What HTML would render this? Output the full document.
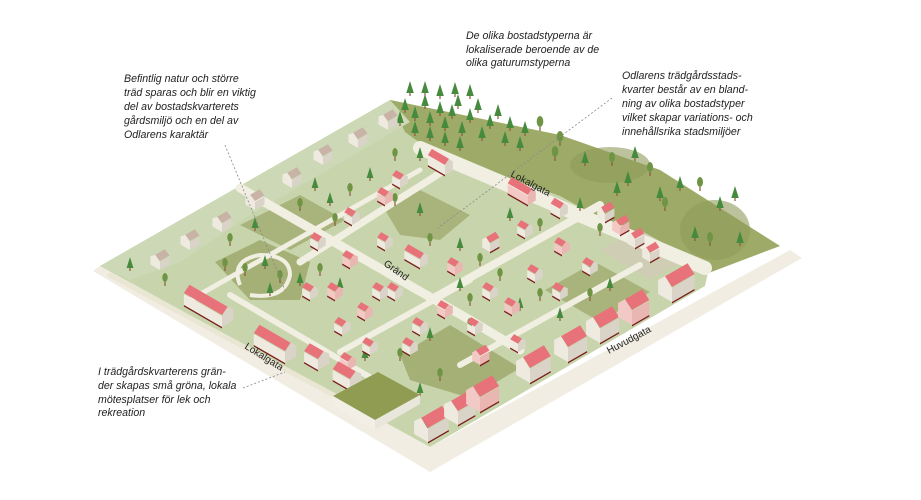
<!DOCTYPE html>
<html><head><meta charset="utf-8">
<style>
html,body{margin:0;padding:0;background:#fff;width:921px;height:500px;overflow:hidden}
svg{display:block}
.t{font-family:"Liberation Sans",sans-serif;font-style:italic;font-size:10.6px;fill:#222}
.lbl{font-family:"Liberation Sans",sans-serif;font-size:10px;fill:#222}
</style></head>
<body>
<svg id="s" width="921" height="500" viewBox="0 0 921 500" xmlns="http://www.w3.org/2000/svg">
<polygon points="93,271 430,472 802,258 790,250 430,447 100,266" fill="#f1ede2"/>
<polygon points="100,266 430,447 705,286 708,272 780,246 660,170 560,135 390,100" fill="#c8d5ac"/>
<polygon points="390,100 560,135 660,170 780,246 706,274 600,218 560,196 430,150 405,132" fill="#9eab68"/>
<polygon points="100,266 390,100 410,122 250,215 180,262 130,280" fill="#cdd8b6"/>
<polygon points="215,262 260,240 310,262 300,300 250,300" fill="#a4b075"/>
<polygon points="240,225 300,195 345,220 290,250" fill="#a9b47c"/>
<polygon points="385,210 420,190 470,215 440,240 400,235" fill="#a9b47c"/>
<polygon points="400,355 450,325 520,368 470,398 410,380" fill="#a4b075"/>
<polygon points="545,290 595,262 650,292 600,322" fill="#a9b47c"/>
<polygon points="600,250 640,230 690,258 650,280" fill="#cfcdb4"/>
<g stroke="#f1eee2" stroke-linecap="round" fill="none">
<path d="M420,148 L705,268" stroke-width="14"/>
<path d="M240,188 L470,320 L520,350" stroke-width="9"/>
<path d="M300,262 L445,170" stroke-width="7"/>
<path d="M430,300 L600,205" stroke-width="8"/>
<path d="M340,352 L470,280" stroke-width="6"/>
<path d="M460,365 L640,265" stroke-width="6"/>
<path d="M190,300 L420,170" stroke-width="5"/>
<path d="M230,295 L400,395" stroke-width="6"/>
<path d="M110,275 L380,420" stroke-width="5" stroke="#e9e6d3"/>
</g>
<path d="M240,285 Q230,260 260,255 Q290,255 290,275 Q285,300 250,295" stroke="#f1eee2" stroke-width="4" fill="none"/>
<g id="trees"></g>
<g id="houses"></g>
<text class="lbl" transform="translate(510,176) rotate(28)">Lokalgata</text>
<text class="lbl" transform="translate(383,265) rotate(35)">Gränd</text>
<text class="lbl" transform="translate(244,348) rotate(32)">Lokalgata</text>
<text class="lbl" transform="translate(609,354) rotate(-28)">Huvudgata</text>
<g stroke="#888" stroke-width="0.8" stroke-dasharray="2,2" fill="none">
<path d="M225,145 L285,290"/>
<path d="M612,98 L438,228"/>
<path d="M243,388 L285,372"/>
</g>
<text class="t" x="124" y="82">Befintlig natur och större</text>
<text class="t" x="124" y="96">träd sparas och blir en viktig</text>
<text class="t" x="124" y="110">del av bostadskvarterets</text>
<text class="t" x="124" y="124">gårdsmiljö och en del av</text>
<text class="t" x="124" y="138">Odlarens karaktär</text>
<text class="t" x="466" y="39">De olika bostadstyperna är</text>
<text class="t" x="466" y="53">lokaliserade beroende av de</text>
<text class="t" x="466" y="66">olika gaturumstyperna</text>
<text class="t" x="622" y="79">Odlarens trädgårdsstads-</text>
<text class="t" x="622" y="93">kvarter består av en bland-</text>
<text class="t" x="622" y="107">ning av olika bostadstyper</text>
<text class="t" x="622" y="121">vilket skapar variations- och</text>
<text class="t" x="622" y="135">innehållsrika stadsmiljöer</text>
<text class="t" x="98" y="375">I trädgårdskvarterens grän-</text>
<text class="t" x="98" y="389">der skapas små gröna, lokala</text>
<text class="t" x="98" y="403">mötesplatser för lek och</text>
<text class="t" x="98" y="416">rekreation</text>
</svg>
<script>
var NS="http://www.w3.org/2000/svg";
function poly(g,pts,fill){var p=document.createElementNS(NS,"polygon");p.setAttribute("points",pts.map(function(a){return a[0].toFixed(1)+","+a[1].toFixed(1)}).join(" "));p.setAttribute("fill",fill);g.appendChild(p);}
var ux=0.866,uy=0.5,vx=0.866,vy=-0.5;
function house(x,y,w,d,h,t,gray,pinkwall){
 var g=document.getElementById("houses");
 var r=h*0.55;
 var B=[x,y],L=[x-ux*w,y-uy*w],R=[x+vx*d,y+vy*d];
 function up(p,k){return [p[0],p[1]-k]}
 var roof=gray?"#c8b3a6":"#e8727a", wall=pinkwall?"#f3c9c5":"#eeeae0", wall2=pinkwall?"#e9b6b2":"#d9d3c8";
 if(t==1){
  var RL=up([L[0]+vx*d/2,L[1]+vy*d/2],h+r),RB=up([B[0]+vx*d/2,B[1]+vy*d/2],h+r);
  poly(g,[L,B,up(B,h),up(L,h)],wall);
  poly(g,[B,R,up(R,h),RB,up(B,h)],wall2);
  poly(g,[up(L,h+1),up(B,h+1),RB,RL],roof);
  if(!gray) poly(g,[[L[0],L[1]],[B[0],B[1]],[B[0],B[1]+1.5],[L[0],L[1]+1.5]],"#7a1c1c");
 } else {
  var F=up([(L[0]+B[0])/2,(L[1]+B[1])/2],h+r),Bk=[F[0]+vx*d,F[1]+vy*d];
  poly(g,[L,B,up(B,h),F,up(L,h)],wall);
  poly(g,[B,R,up(R,h),up(B,h)],wall2);
  poly(g,[up(B,h+1),up(R,h+1),Bk,F],roof);
  if(!gray) poly(g,[[B[0],B[1]],[R[0],R[1]],[R[0],R[1]+1.5],[B[0],B[1]+1.5]],"#7a1c1c");
 }
}
function tree(x,y,s,c){
 var g=document.getElementById("trees");
 var tr=document.createElementNS(NS,"rect");tr.setAttribute("x",x-0.6);tr.setAttribute("y",y-3);tr.setAttribute("width",1.2);tr.setAttribute("height",4);tr.setAttribute("fill","#8a5a3a");g.appendChild(tr);
 if(c){var e=document.createElementNS(NS,"ellipse");e.setAttribute("cx",x);e.setAttribute("cy",y-3-s);e.setAttribute("rx",s*0.6);e.setAttribute("ry",s);e.setAttribute("fill","#6e9444");g.appendChild(e);}
 else poly(g,[[x,y-3-s*2.2],[x-s*0.75,y-2],[x+s*0.75,y-2]],"#468a3e");
}
var tg=document.getElementById("trees");
[[610,165,40,18],[715,230,35,30]].forEach(function(e){var el=document.createElementNS(NS,"ellipse");el.setAttribute("cx",e[0]);el.setAttribute("cy",e[1]);el.setAttribute("rx",e[2]);el.setAttribute("ry",e[3]);el.setAttribute("fill","#8f9b5a");el.setAttribute("opacity","0.6");tg.appendChild(el)});
var ft=[[405,112],[415,120],[425,108],[430,125],[440,115],[445,130],[452,118],[458,108],[462,135],[470,122],[478,112],[482,140],[490,128],[498,118],[505,145],[510,130],[520,150],[525,135],[415,135],[430,140],[445,145],[460,150],[400,125],[470,98],[455,96],[440,98],[425,95],[410,95]];
ft.forEach(function(p){tree(p[0],p[1],5,false)});
[[540,130],[560,145],[555,160]].forEach(function(p){tree(p[0],p[1],5.5,true)});
var hill=[[612,165],[635,160],[628,185],[650,175],[660,200],[680,190],[700,190],[720,210],[735,200],[710,245],[740,245],[695,240],[665,210],[617,195],[585,165]];
hill.forEach(function(p,i){tree(p[0],p[1],5,i%3==0)});
var tl=[[245,275],[265,268],[280,282],[270,295],[225,270],[300,285],[230,245],[255,230],[320,275],[340,290],[300,210],[330,205],[335,225],[315,190],[350,195],[370,180],[395,160],[420,160],[395,205],[420,215],[430,245],[460,250],[480,265],[460,290],[500,280],[520,310],[540,300],[560,320],[590,300],[610,290],[470,330],[430,340],[400,360],[365,360],[440,380],[420,395],[470,305],[510,220],[540,230],[580,210],[600,235],[130,270],[165,285],[425,430]];
tl.forEach(function(p,i){tree(p[0],p[1],4.5,i%2==0)});
[[160,270],[190,250],[222,232],[255,210],[292,188],[323,165],[358,148],[388,130]].forEach(function(p){house(p[0],p[1],11,11,8,2,true)});
var hs=[[342,335,10,11,8,1],[365,320,10,10,8,1],[395,300,10,10,8,1],[420,335,10,10,8,1],[445,318,10,10,8,1],[475,335,10,10,8,1],[490,300,10,10,8,1],[512,315,10,10,8,1],[518,352,10,10,8,1],[535,282,10,10,8,1],[562,255,10,10,8,1],[525,238,10,10,8,1],[490,252,10,12,9,2],[455,275,10,10,8,1],[420,268,20,10,9,1],[385,250,10,10,8,1],[350,268,10,10,8,1],[318,250,10,10,8,1],[352,225,10,10,8,1],[385,205,10,10,8,1],[400,188,10,10,8,1],[445,175,22,10,10,1],[528,205,26,10,10,1],[560,218,12,10,9,1],[605,222,10,12,9,2],[620,235,10,12,9,2],[635,248,10,12,9,2],[650,262,10,12,9,2],[348,370,10,10,8,1],[370,355,10,10,8,1],[410,355,10,10,8,1],[480,365,10,12,9,2],[310,300,10,10,8,1],[380,300,10,10,8,1],[335,300,10,10,8,1],[590,275,10,10,8,1],[560,300,10,10,8,1]];
hs.forEach(function(h,i){house(h[0],h[1],h[2]*0.9,h[3]*0.9,h[4]*0.9,h[5],false,i%3==1)});
house(222,327,44,13,11,1,false,false);
house(285,363,36,13,11,1,false,false);
house(318,370,16,13,10,1,false,false);
house(350,390,20,13,10,1,false,false);
var hg=document.getElementById("houses");
poly(hg,[[375,420],[420,395],[378,372],[333,396]],"#8f9c52");
poly(hg,[[375,420],[420,395],[420,404],[375,430]],"#e9e6dc");
poly(hg,[[333,396],[375,420],[375,430],[333,406]],"#f2efe6");
house(428,442,16,24,13,2,false,false);
house(458,425,16,20,13,2,false,false);
house(480,412,16,22,14,2,false,true);
house(530,383,16,24,14,2,false,false);
house(568,362,16,22,14,2,false,false);
house(600,343,16,22,14,2,false,false);
house(632,325,16,20,14,2,false,true);
house(672,302,16,26,14,2,false,false);
</script>
</body></html>
